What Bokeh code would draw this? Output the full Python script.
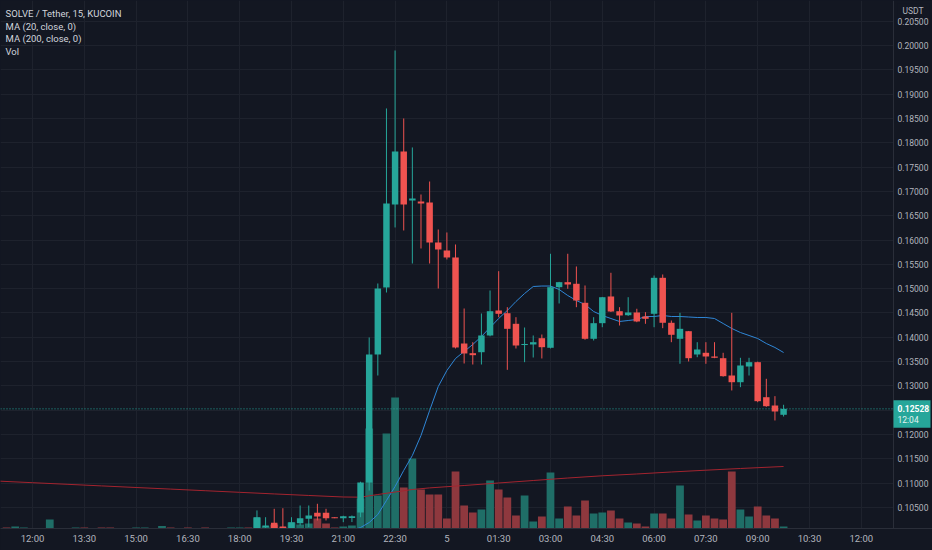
from bokeh.plotting import figure
from bokeh.models import Range1d, FixedTicker, Label
from bokeh.core.properties import value
from bokeh.embed import file_html
from bokeh.resources import INLINE

# ---------------- data (15-minute bars, counted from 12:00 on the 4th) ----------------
first_bar = 26
opens = [0.1000, 0.10095, 0.10185, 0.10109, 0.10068, 0.10177, 0.10268, 0.10391, 0.10391, 0.1029,
         0.1028, 0.10285, 0.10397, 0.11014, 0.13646, 0.15024, 0.1673, 0.1782, 0.16813, 0.16792,
         0.16772, 0.15949, 0.15785, 0.15641, 0.13872, 0.13673, 0.13693, 0.14037, 0.14551, 0.14495,
         0.14277, 0.13845, 0.13852, 0.13981, 0.13784, 0.1503, 0.15133, 0.151, 0.14709, 0.13969,
         0.1429, 0.14839, 0.14536, 0.14454, 0.1451, 0.14427, 0.14483, 0.15223, 0.14298, 0.13969,
         0.14125, 0.13646, 0.13681, 0.13605, 0.1357, 0.13214, 0.13076, 0.13399, 0.13488, 0.12768,
         0.12597, 0.12406]
highs = [0.1044, 0.1030, 0.10473, 0.10485, 0.1030, 0.10541, 0.10541, 0.10576, 0.10473, 0.1030,
         0.1033, 0.10335, 0.1103, 0.13996, 0.15106, 0.18705, 0.19897, 0.18499, 0.17903, 0.16936,
         0.17203, 0.16216, 0.16155, 0.15908, 0.14592, 0.13899, 0.14489, 0.14962, 0.15359, 0.14619,
         0.14413, 0.14201, 0.14037, 0.14057, 0.15717, 0.1514, 0.15717, 0.15456, 0.15065, 0.14413,
         0.1483, 0.15326, 0.14619, 0.14824, 0.14586, 0.14516, 0.1527, 0.15291, 0.14345, 0.14503,
         0.1413, 0.13899, 0.13899, 0.13899, 0.13681, 0.14503, 0.13578, 0.13578, 0.1350, 0.13146,
         0.12789, 0.12612]
lows = [0.0995, 0.10068, 0.1005, 0.1005, 0.1005, 0.1013, 0.10095, 0.10233, 0.10233, 0.1028,
        0.10198, 0.1020, 0.1030, 0.10849, 0.13214, 0.14921, 0.16258, 0.16196, 0.15517, 0.15826,
        0.15517, 0.15003, 0.1560, 0.1377, 0.13461, 0.1344, 0.1344, 0.1402, 0.14413, 0.13331,
        0.13769, 0.13488, 0.13584, 0.13564, 0.1377, 0.14695, 0.14997, 0.14619, 0.1395, 0.13934,
        0.14207, 0.1452, 0.14242, 0.1444, 0.1431, 0.14277, 0.14207, 0.14187, 0.13899, 0.13455,
        0.13502, 0.1359, 0.13455, 0.1357, 0.1319, 0.12906, 0.12974, 0.13214, 0.12665, 0.1257,
        0.12289, 0.12371]
closes = [0.1030, 0.1013, 0.10068, 0.10068, 0.10198, 0.1028, 0.10335, 0.10315, 0.1028, 0.10285,
          0.10321, 0.10318, 0.11014, 0.13646, 0.15003, 0.16751, 0.1782, 0.1673, 0.16854, 0.16751,
          0.15949, 0.15805, 0.15641, 0.1379, 0.13667, 0.13632, 0.14037, 0.14536, 0.14483, 0.14174,
          0.13831, 0.13858, 0.13899, 0.13796, 0.1503, 0.15133, 0.15085, 0.14756, 0.13969, 0.1429,
          0.14824, 0.1453, 0.14448, 0.1451, 0.14325, 0.1438, 0.15223, 0.14298, 0.14051, 0.14174,
          0.1357, 0.13749, 0.13605, 0.13578, 0.1320, 0.13076, 0.1342, 0.13488, 0.12686, 0.12583,
          0.12474, 0.12528]

ma20_first = 37
ma20 = [0.10027, 0.10088, 0.10191, 0.10356, 0.10644, 0.10932, 0.11261, 0.11569, 0.1198, 0.12494,
        0.12988, 0.13317, 0.13564, 0.13708, 0.13852, 0.14016, 0.14201, 0.14386, 0.14551, 0.14736,
        0.1490, 0.15044, 0.15054, 0.15054, 0.14983, 0.14859, 0.14756, 0.14674, 0.1453, 0.14448,
        0.14386, 0.14325, 0.14345, 0.14366, 0.14427, 0.14427, 0.14448, 0.14427, 0.14427, 0.14417,
        0.14407, 0.14407, 0.14386, 0.14283, 0.14181, 0.14098, 0.14037, 0.13975, 0.13872, 0.1379,
        0.13687]

ma200_bars = [-4, 0, 4, 8, 12, 16, 20, 24, 28, 32, 36, 38, 40, 42, 44, 46, 50, 54, 58, 62,
              66, 70, 74, 78, 82, 87]
ma200 = [0.11043, 0.1101, 0.10977, 0.10944, 0.10911, 0.10878, 0.10845, 0.10812, 0.10779, 0.10747,
         0.10716, 0.10712, 0.10767, 0.10818, 0.1087, 0.10903, 0.10952, 0.11004, 0.11055, 0.11106,
         0.11152, 0.11189, 0.1123, 0.11267, 0.11302, 0.11343]

vol_first = -3
volumes = [2, 4, 2, 1, 1, 18, 1, 1, 2, 2, 1, 2, 2, 1, 1, 2, 2, 1, 5, 2,
           1, 2, 1, 2, 1, 1, 2, 2, 2,
           22, 4, 8, 2, 12, 8, 10, 20, 10, 2, 4, 6, 60, 200, 66, 190, 262, 82, 140, 78,
           68, 68, 20, 114, 46, 32, 38, 96, 78, 62, 26, 66, 14, 24, 112, 20, 44, 26, 56, 30,
           32, 36, 20, 12, 10, 4, 30, 30, 20, 86, 28, 16, 26, 20, 18, 114, 38, 24, 44, 26,
           20, 4]
early_vol_up = [False, True, True, True, False, True, True, False, True, False, True, False, False,
                True, True, True, True, False, True, False, True, False, True, False, False, True,
                True, True, False]

last_price = 0.12528
countdown = "12:04"
quote_currency = "USDT"
price_ticks = [0.105, 0.110, 0.115, 0.120, 0.125, 0.130, 0.135, 0.140, 0.145, 0.150, 0.155,
               0.160, 0.165, 0.170, 0.175, 0.180, 0.185, 0.190, 0.195, 0.200, 0.205]
time_tick_bars = [0, 6, 12, 18, 24, 30, 36, 42, 48, 54, 60, 66, 72, 78, 84, 90, 96]
time_tick_labels = ["12:00", "13:30", "15:00", "16:30", "18:00", "19:30", "21:00", "22:30", "5",
                    "01:30", "03:00", "04:30", "06:00", "07:30", "09:00", "10:30", "12:00"]
legend_lines = ["SOLVE / Tether, 15, KUCOIN", "MA (20, close, 0)", "MA (200, close, 0)", "Vol"]

# ---------------- style / layout ----------------
BG = "#131722"
GRID = "#1e222d"
AXIS = "#2a2e39"
TXT = "#b2b5be"
LEG = "#d1d4dc"
UP = "#26a69a"
DOWN = "#ef5350"
UP_VOL = "#1f6e67"
DOWN_VOL = "#8e383e"
MA20_C = "#2f86d6"
MA200_C = "#a3242f"
FONT = "Roboto"

W, H = 932, 550
FW, FH = 932, 528           # frame (the price scale lives inside the frame, right side)
X0, X1 = -3.7067, 104.25    # bar index range across the frame
Y0, Y1 = 0.10068, 0.20925   # price range across the frame
SCALE_PX = 893              # left edge of the price scale


def kx(px):
    return X0 + px / FW * (X1 - X0)


def py(pix):
    return Y1 - pix / FH * (Y1 - Y0)


def pix_of(price):
    return (Y1 - price) / (Y1 - Y0) * FH


n = len(opens)
xs = [first_bar + i for i in range(n)]
up = [c >= o for o, c in zip(opens, closes)]
min_body = 0.00022
tops, bots = [], []
for o, c in zip(opens, closes):
    t, b = max(o, c), min(o, c)
    if t - b < min_body:
        m = (t + b) / 2
        t, b = m + min_body / 2, m - min_body / 2
    tops.append(t)
    bots.append(b)

vol_x = [vol_first + i for i in range(len(volumes))]
vol_up = early_vol_up + up
vol_colors = [UP_VOL if u else DOWN_VOL for u in vol_up]

p = figure(width=W, height=H, x_range=Range1d(X0, X1), y_range=Range1d(Y0, Y1),
           output_backend="svg", toolbar_location=None,
           background_fill_color=BG, border_fill_color=BG, outline_line_color=None,
           min_border_left=0, min_border_top=0, min_border_right=0, min_border_bottom=22,
           y_axis_location=None)
p.extra_y_ranges = {"vol": Range1d(0, 1056)}

# time axis
ax = p.xaxis[0]
ax.ticker = FixedTicker(ticks=time_tick_bars)
ax.major_label_overrides = {b: l for b, l in zip(time_tick_bars, time_tick_labels)}
ax.axis_line_color = AXIS
ax.major_tick_line_color = None
ax.minor_tick_line_color = None
ax.major_tick_out = 0
ax.major_tick_in = 0
ax.major_label_text_color = TXT
ax.major_label_text_font = FONT
ax.major_label_text_font_size = "9.5px"
ax.major_label_standoff = 4
p.xgrid.ticker = FixedTicker(ticks=time_tick_bars)
p.ygrid.ticker = FixedTicker(ticks=price_ticks)
p.grid.grid_line_color = GRID

# volume
p.vbar(x=vol_x, top=volumes, bottom=0, width=0.9, fill_color=vol_colors, line_color=None,
       y_range_name="vol")

# moving averages
p.line([ma20_first + i for i in range(len(ma20))], ma20, line_color=MA20_C, line_width=1)
p.line(ma200_bars, ma200, line_color=MA200_C, line_width=1)

# last price line
p.segment(x0=[X0], y0=[last_price], x1=[kx(SCALE_PX)], y1=[last_price], line_color=UP,
          line_dash="1 2", line_width=1)

# candles
cols = [UP if u else DOWN for u in up]
p.segment(x0=xs, y0=lows, x1=xs, y1=highs, line_color=cols, line_width=1)
p.vbar(x=xs, top=tops, bottom=bots, width=0.75, fill_color=cols, line_color=None)

# price scale (right side)
p.quad(left=[kx(SCALE_PX)], right=[X1], bottom=[Y0], top=[Y1], fill_color=BG, line_color=None)
p.segment(x0=[kx(SCALE_PX)], y0=[Y0], x1=[kx(SCALE_PX)], y1=[Y1], line_color=AXIS, line_width=1)
p.text(x=[kx(SCALE_PX + 4)] * len(price_ticks), y=price_ticks,
       text=["%.5f" % t for t in price_ticks], text_color=TXT, text_font=value(FONT),
       text_font_size="8.5px", text_baseline="middle", text_align="left")
# quote currency tag
p.quad(left=[kx(SCALE_PX + 4)], right=[kx(929)], bottom=[py(17)], top=[py(3)], fill_color=BG,
       line_color=None)
p.text(x=[kx(SCALE_PX + 9)], y=[py(10.5)], text=[quote_currency], text_color=TXT,
       text_font=value(FONT), text_font_size="8.5px", text_baseline="middle", text_align="left")
# last price tag
lp = pix_of(last_price)
p.quad(left=[kx(SCALE_PX)], right=[kx(930)], bottom=[py(lp + 19)], top=[py(lp - 8.5)],
       fill_color=UP, line_color=None)
p.text(x=[kx(SCALE_PX + 4)], y=[last_price], text=["%.5f" % last_price], text_color="#ffffff",
       text_font=value(FONT), text_font_size="8.5px", text_font_style="bold",
       text_baseline="middle", text_align="left")
p.text(x=[kx(SCALE_PX + 4)], y=[py(lp + 11)], text=[countdown], text_color="#e3f3f1",
       text_font=value(FONT), text_font_size="8.5px", text_baseline="middle", text_align="left")

# legend texts
for i, t in enumerate(legend_lines):
    p.add_layout(Label(x=5, y=FH - 13 - i * 12.6, x_units="screen", y_units="screen", text=t,
                       text_color=LEG, text_font=FONT, text_font_size="9.5px",
                       text_baseline="middle"))

html = file_html(p, INLINE, title="SOLVE / Tether, 15, KUCOIN")
html = html.replace("</head>",
                    "<style>html,body{margin:0;padding:0;background:#131722;overflow:hidden}</style></head>", 1)
open("out.html", "w").write(html)
